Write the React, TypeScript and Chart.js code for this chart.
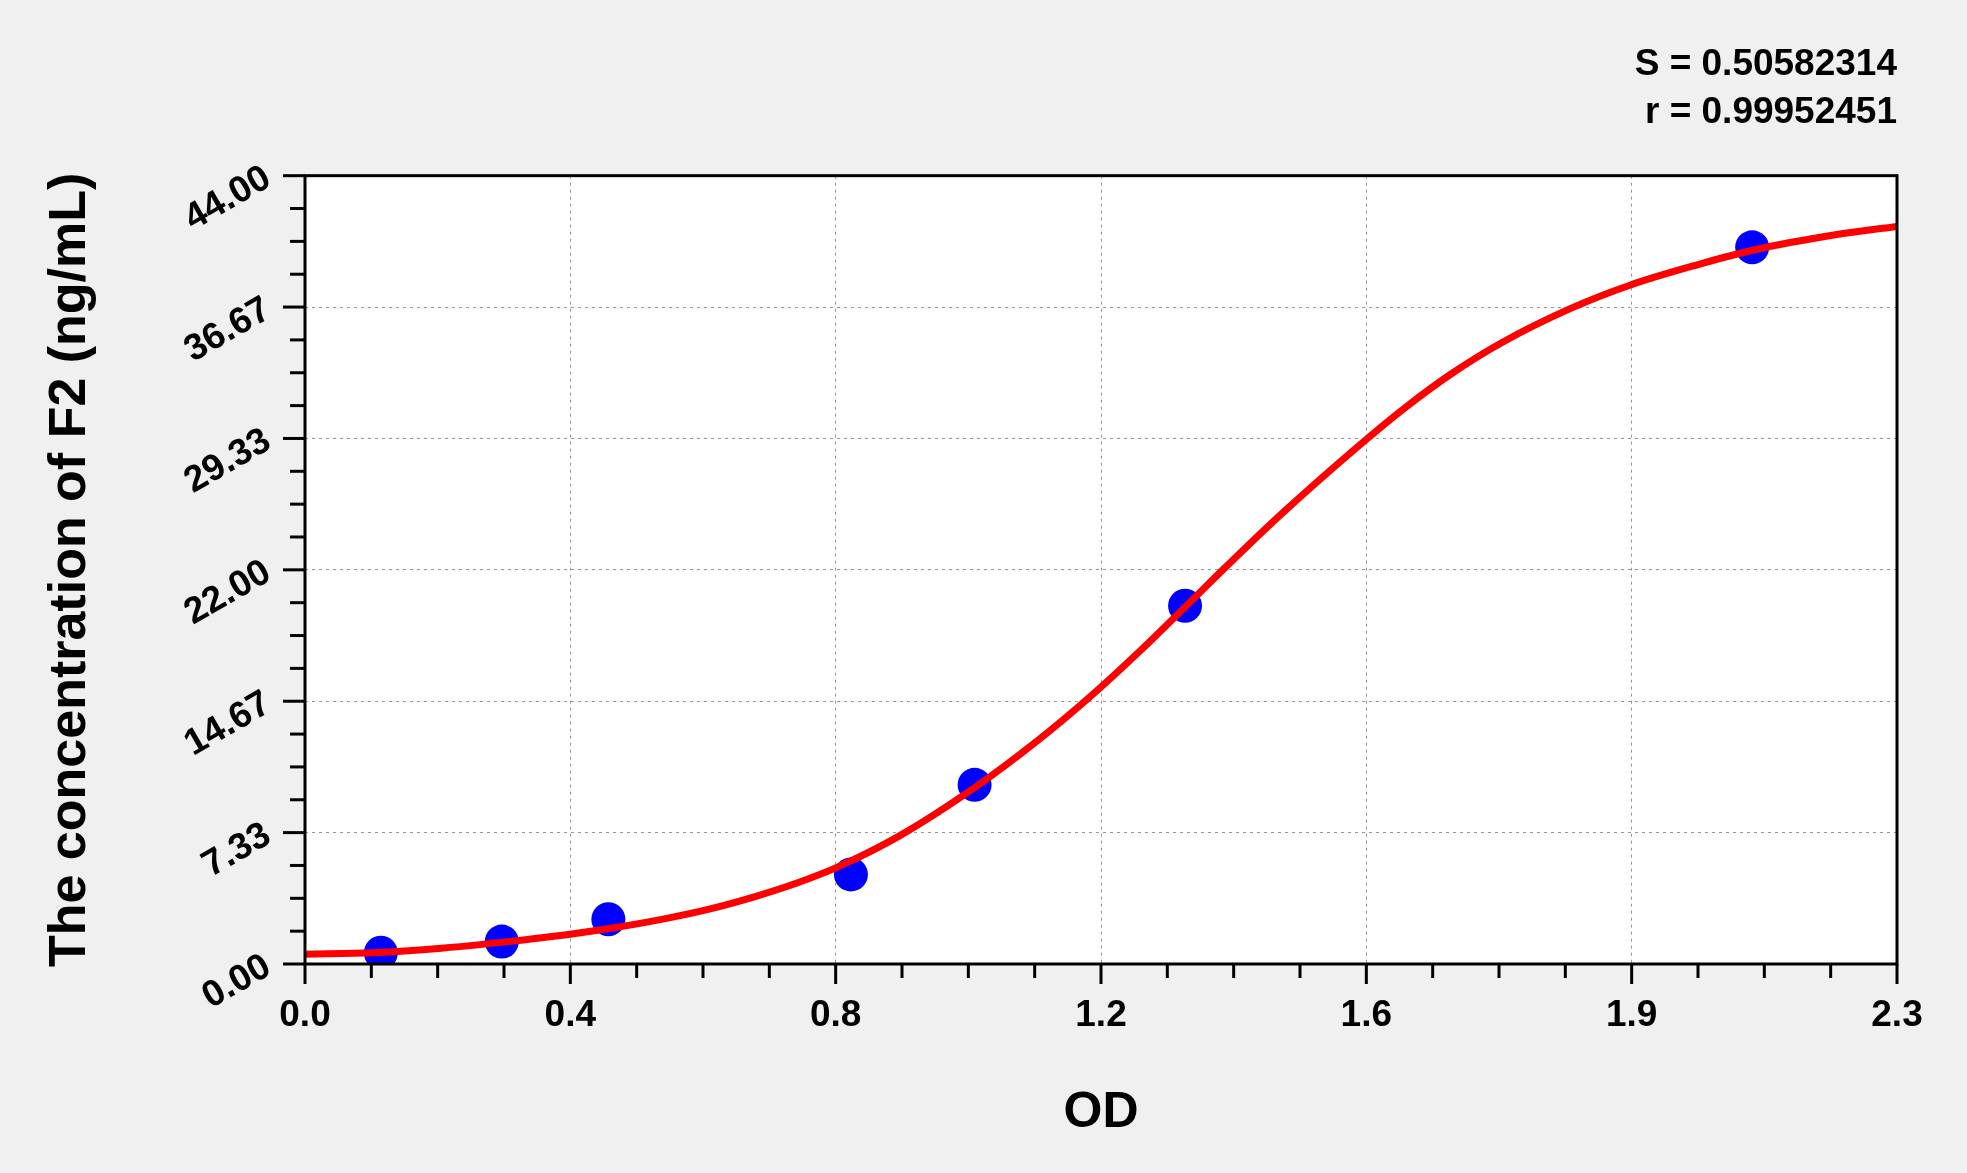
import { useEffect, useRef } from 'react';
import Chart from 'chart.js/auto';

// standards (OD, concentration)
const odValues = [0.111, 0.288, 0.444, 0.799, 0.98, 1.288, 2.118];
const concValues = [0.625, 1.25, 2.5, 5, 10, 20, 40];

// fitted curve
const curveOd = [
  0, 0.1, 0.2, 0.29, 0.38, 0.44, 0.52, 0.59, 0.66, 0.72, 0.78, 0.87, 0.98, 1.07, 1.15,
  1.22, 1.29, 1.35, 1.43, 1.54, 1.61, 1.68, 1.75, 1.85, 1.94, 2.04, 2.12, 2.24, 2.33,
];
const curveConc = [
  0.55, 0.63, 0.88, 1.22, 1.62, 1.95, 2.48, 3.05, 3.78, 4.52, 5.42, 7.15, 9.84, 12.4, 14.95,
  17.4, 20.0, 22.25, 25.15, 28.85, 31.05, 33.0, 34.65, 36.55, 37.9, 39.05, 39.85, 40.7, 41.17,
];

const xTickLabels = ['0.0', '0.4', '0.8', '1.2', '1.6', '1.9', '2.3'];
const yTickLabels = ['0.00', '7.33', '14.67', '22.00', '29.33', '36.67', '44.00'];
const statLines = ['S = 0.50582314', 'r = 0.99952451'];

const X_MAX = 2.33;
const Y_MAX = 44;
const MINOR = 4; // minor divisions per major step

const FONT = "'Liberation Sans', Arial, sans-serif";
const GRID = 'rgba(140,140,140,0.9)';

const frameAndTicks = {
  id: 'frameAndTicks',
  beforeDraw(chart: any) {
    const { ctx, chartArea: a } = chart;
    ctx.save();
    ctx.fillStyle = '#ffffff';
    ctx.fillRect(a.left, a.top, a.right - a.left, a.bottom - a.top);
    ctx.restore();
  },
  afterDraw(chart: any) {
    const { ctx, chartArea: a, scales } = chart;
    ctx.save();
    ctx.strokeStyle = '#000';
    ctx.lineWidth = 3;
    scales.x.ticks.forEach((t: any, i: number) => {
      const px = scales.x.getPixelForValue(t.value);
      const len = i % MINOR === 0 ? 20 : 14;
      ctx.beginPath();
      ctx.moveTo(px, a.bottom);
      ctx.lineTo(px, a.bottom + len);
      ctx.stroke();
    });
    scales.y.ticks.forEach((t: any, i: number) => {
      const py = scales.y.getPixelForValue(t.value);
      const len = i % MINOR === 0 ? 22 : 15;
      ctx.beginPath();
      ctx.moveTo(a.left, py);
      ctx.lineTo(a.left - len, py);
      ctx.stroke();
    });
    ctx.strokeRect(a.left, a.top, a.right - a.left, a.bottom - a.top);
    ctx.restore();
  },
};

export default function App() {
  const canvasRef = useRef<HTMLCanvasElement>(null);

  useEffect(() => {
    if (!canvasRef.current) return;

    const chart = new Chart(canvasRef.current, {
      type: 'scatter',
      data: {
        datasets: [
          {
            type: 'line',
            data: curveOd.map((x, i) => ({ x, y: curveConc[i] })),
            borderColor: '#ff0000',
            borderWidth: 7,
            pointRadius: 0,
            cubicInterpolationMode: 'monotone',
            fill: false,
            order: 0,
          },
          {
            type: 'scatter',
            data: odValues.map((x, i) => ({ x, y: concValues[i] })),
            backgroundColor: '#0000ff',
            borderWidth: 0,
            pointRadius: 17,
            order: 1,
          },
        ],
      },
      options: {
        responsive: false,
        animation: false,
        layout: { padding: { top: 0, right: 70, bottom: 0, left: 0 } },
        plugins: {
          legend: { display: false },
          tooltip: { enabled: false },
          title: {
            display: true,
            text: statLines,
            align: 'end',
            color: '#000',
            font: { family: FONT, size: 37, weight: 'bold', lineHeight: 1.32 },
            padding: { top: 40, bottom: 38 },
          },
        },
        scales: {
          x: {
            type: 'linear',
            min: 0,
            max: X_MAX,
            afterBuildTicks: (scale: any) => {
              const n = (xTickLabels.length - 1) * MINOR;
              scale.ticks = Array.from({ length: n + 1 }, (_, i) => ({ value: (X_MAX * i) / n }));
            },
            afterFit: (scale: any) => {
              scale.height = 209;
            },
            grid: {
              color: (c: any) => (c.index % MINOR === 0 ? GRID : 'rgba(0,0,0,0)'),
              lineWidth: 1,
              drawTicks: false,
            },
            border: { display: false, dash: [3, 4] },
            ticks: {
              autoSkip: false,
              maxRotation: 0,
              padding: 30,
              color: '#000',
              font: { family: FONT, size: 37, weight: 'bold' },
              callback: (_v: any, i: number) => (i % MINOR === 0 ? xTickLabels[i / MINOR] : ''),
            },
            title: {
              display: true,
              text: 'OD',
              color: '#000',
              font: { family: FONT, size: 50, weight: 'bold' },
              padding: { top: 0, bottom: 30 },
            },
          },
          y: {
            type: 'linear',
            min: 0,
            max: Y_MAX,
            afterBuildTicks: (scale: any) => {
              const n = (yTickLabels.length - 1) * MINOR;
              scale.ticks = Array.from({ length: n + 1 }, (_, i) => ({ value: (Y_MAX * i) / n }));
            },
            afterFit: (scale: any) => {
              scale.width = 305;
            },
            grid: {
              color: (c: any) => (c.index % MINOR === 0 ? GRID : 'rgba(0,0,0,0)'),
              lineWidth: 1,
              drawTicks: false,
            },
            border: { display: false, dash: [3, 4] },
            ticks: {
              autoSkip: false,
              minRotation: 30,
              maxRotation: 30,
              padding: 37,
              color: '#000',
              font: { family: FONT, size: 37, weight: 'bold' },
              callback: (_v: any, i: number) => (i % MINOR === 0 ? yTickLabels[i / MINOR] : ''),
            },
            title: {
              display: true,
              text: 'The concentration of F2 (ng/mL)',
              color: '#000',
              font: { family: FONT, size: 52, weight: 'bold' },
              padding: { top: 39, bottom: 0 },
            },
          },
        },
      },
      plugins: [frameAndTicks],
    } as any);

    return () => chart.destroy();
  }, []);

  return (
    <div
      style={{
        position: 'fixed',
        left: 0,
        top: 0,
        width: 1967,
        height: 1173,
        background: '#f0f0f0',
      }}
    >
      <canvas ref={canvasRef} width={1967} height={1173} style={{ display: 'block' }} />
    </div>
  );
}
